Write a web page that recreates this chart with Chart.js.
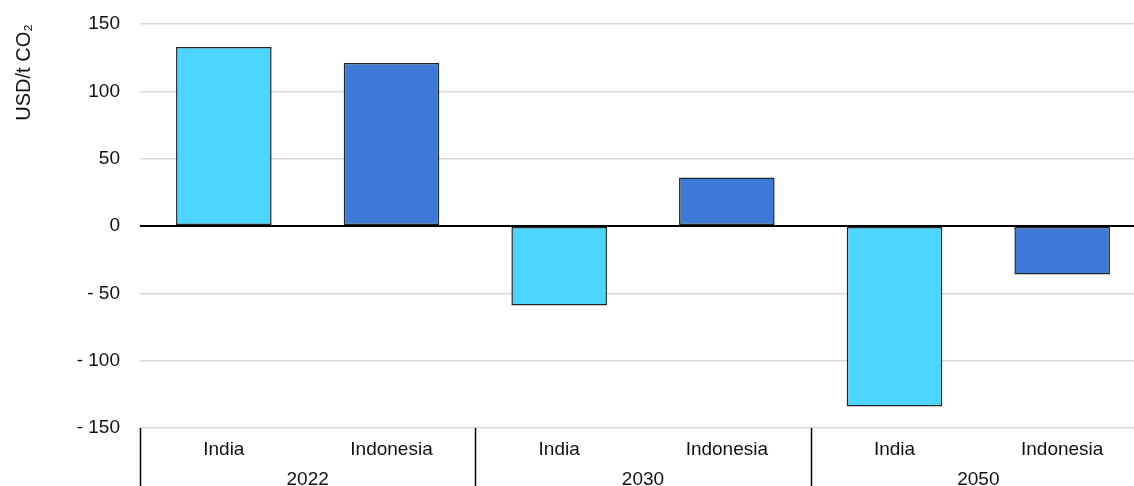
<!DOCTYPE html>
<html>
<head>
<meta charset="utf-8">
<script src="https://cdn.jsdelivr.net/npm/chart.js@4"></script>
<style>
  html, body { margin: 0; padding: 0; background: #fff; overflow: hidden; }
  #wrap { width: 1146px; height: 486px; position: relative; }
</style>
</head>
<body>
<div id="wrap"><canvas id="chart"></canvas></div>
<script>
// Data
const years = ["2022", "2030", "2050"];
const countries = ["India", "Indonesia"];
const india = [133, -59, -134];
const indonesia = [121, 36, -36];
const yTicks = [-150, -100, -50, 0, 50, 100, 150];

const countryColors = ["#4bd5ff", "#3d79d6"];
const font = { family: "Liberation Sans, Arial", size: 19 };

// Build the six bars in year order: India, Indonesia, India, ...
const labels = [];
const values = [];
const colors = [];
years.forEach((y, i) => {
  labels.push(countries[0], countries[1]);
  values.push(india[i], indonesia[i]);
  colors.push(countryColors[0], countryColors[1]);
});

// Vertical separators between the year groups, below the plot
const groupLines = {
  id: "groupLines",
  afterDraw(chart) {
    const x = chart.scales.x;
    const ctx = chart.ctx;
    const half = (x.getPixelForValue(1) - x.getPixelForValue(0)) / 2;
    ctx.save();
    ctx.strokeStyle = "#000";
    ctx.lineWidth = 1.5;
    for (let i = 0; i <= labels.length; i += countries.length) {
      const px = Math.round(x.getPixelForValue(i) - half) + 0.5;
      ctx.beginPath();
      ctx.moveTo(px, chart.chartArea.bottom);
      ctx.lineTo(px, chart.height);
      ctx.stroke();
    }
    ctx.restore();
  },
};

new Chart(document.getElementById("chart"), {
  type: "bar",
  plugins: [groupLines],
  data: {
    labels: labels,
    datasets: [
      {
        data: values,
        backgroundColor: colors,
        borderColor: "#1e2326",
        borderWidth: 1.5,
        borderSkipped: false,
        barPercentage: 0.57,
        categoryPercentage: 1,
      },
    ],
  },
  options: {
    responsive: true,
    maintainAspectRatio: false,
    animation: false,
    layout: { padding: { top: 24, right: 0, bottom: 0, left: 0 } },
    plugins: {
      legend: { display: false },
      tooltip: { enabled: false },
    },
    scales: {
      x: {
        afterFit: (scale) => { scale.height = 36; },
        grid: { display: false, drawTicks: false },
        border: { display: false },
        ticks: {
          color: "#111",
          font: font,
          padding: 10,
          maxRotation: 0,
        },
      },
      x2: {
        type: "category",
        labels: years,
        position: "bottom",
        offset: true,
        afterFit: (scale) => { scale.height = 22; },
        grid: { display: false, drawTicks: false },
        border: { display: false },
        ticks: {
          color: "#111",
          font: font,
          padding: 4,
        },
      },
      y: {
        min: yTicks[0],
        max: yTicks[yTicks.length - 1],
        afterFit: (scale) => { scale.width = 140; },
        afterBuildTicks: (scale) => {
          scale.ticks = yTicks.map((v) => ({ value: v }));
        },
        border: { display: false },
        grid: {
          color: (c) => (c.tick && c.tick.value === 0 ? "#000" : "#d9d9d9"),
          lineWidth: (c) => (c.tick && c.tick.value === 0 ? 2 : 1.5),
          drawTicks: true,
          tickLength: 20,
          tickColor: "rgba(0,0,0,0)",
        },
        ticks: {
          color: "#111",
          font: font,
          padding: 0,
          callback: (v) => (v < 0 ? "- " + Math.abs(v) : String(v)),
        },
        title: {
          display: true,
          text: "USD/t CO₂",
          align: "end",
          color: "#111",
          font: { family: "Liberation Sans, Arial", size: 20 },
          padding: { top: 12, bottom: 0 },
        },
      },
    },
  },
});
</script>
</body>
</html>
